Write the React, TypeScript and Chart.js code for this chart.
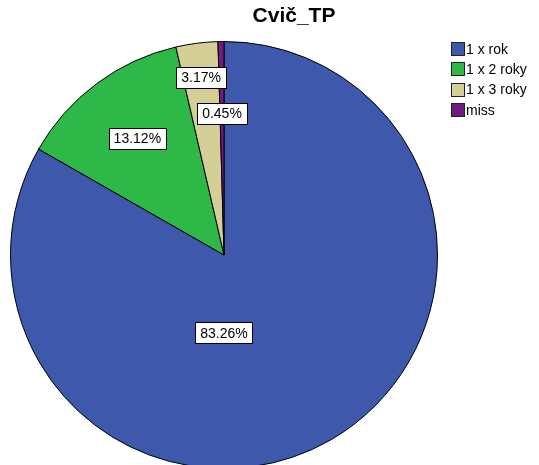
import React, { useEffect, useRef } from "react";
import { Chart, registerables } from "chart.js";

Chart.register(...registerables);

const chartTitle = "Cvič_TP";
const categories = ["1 x rok", "1 x 2 roky", "1 x 3 roky", "miss"];
const percentages = [83.26, 13.12, 3.17, 0.45];
const sliceColors = ["#3E58AC", "#2EB848", "#D4CE97", "#701C7E"];
// label placement: fraction of radius, and optional angle (deg from top, clockwise)
const labelRadius = [0.365, 0.68, 0.84, 0.665];
const labelAngle: (number | null)[] = [180, null, null, null];

const FONT = '"Liberation Sans", Arial, sans-serif';

const overlayPlugin = {
  id: "overlay",
  afterDraw(chart: any) {
    const ctx = chart.ctx;
    const meta = chart.getDatasetMeta(0);
    ctx.save();
    // slice labels
    ctx.font = `14px ${FONT}`;
    ctx.textBaseline = "middle";
    ctx.textAlign = "center";
    meta.data.forEach((arc: any, i: number) => {
      const p = arc.getProps(["x", "y", "startAngle", "endAngle", "outerRadius"], true);
      const ang =
        labelAngle[i] !== null
          ? ((labelAngle[i] as number) * Math.PI) / 180 - Math.PI / 2
          : (p.startAngle + p.endAngle) / 2;
      const r = p.outerRadius * labelRadius[i];
      const lx = p.x + r * Math.cos(ang);
      const ly = p.y + r * Math.sin(ang);
      const text = percentages[i].toFixed(2) + "%";
      const w = ctx.measureText(text).width + 10;
      const h = 21;
      const bx = Math.round(lx - w / 2) + 0.5;
      const by = Math.round(ly - h / 2) + 0.5;
      ctx.fillStyle = "#ffffff";
      ctx.fillRect(bx, by, Math.round(w), h);
      ctx.strokeStyle = "#000000";
      ctx.lineWidth = 1;
      ctx.strokeRect(bx, by, Math.round(w), h);
      ctx.fillStyle = "#000000";
      ctx.fillText(text, lx, ly + 1);
    });
    // title
    ctx.font = `bold 21px ${FONT}`;
    ctx.textAlign = "center";
    ctx.textBaseline = "alphabetic";
    ctx.fillStyle = "#000000";
    ctx.fillText(chartTitle, 294, 22);
    // legend
    ctx.font = `14px ${FONT}`;
    ctx.textAlign = "left";
    ctx.textBaseline = "middle";
    categories.forEach((c, i) => {
      const cy = 49 + i * 20.3;
      ctx.fillStyle = sliceColors[i];
      ctx.fillRect(451.5, Math.round(cy - 7) + 0.5, 13, 13);
      ctx.strokeStyle = "#222222";
      ctx.strokeRect(451.5, Math.round(cy - 7) + 0.5, 13, 13);
      ctx.fillStyle = "#000000";
      ctx.fillText(c, 466, cy + 1);
    });
    ctx.restore();
  },
};

export default function App() {
  const ref = useRef<HTMLCanvasElement | null>(null);
  useEffect(() => {
    if (!ref.current) return;
    const chart = new Chart(ref.current, {
      type: "pie",
      data: {
        labels: categories,
        datasets: [
          {
            data: percentages,
            backgroundColor: sliceColors,
            borderColor: "#000000",
            borderWidth: 1,
          },
        ],
      },
      options: {
        responsive: false,
        animation: false,
        layout: { padding: { left: 10, top: 41, right: 101, bottom: 11 } },
        plugins: {
          legend: { display: false },
          title: { display: false },
          tooltip: { enabled: false },
        },
      },
      plugins: [overlayPlugin],
    });
    return () => chart.destroy();
  }, []);
  return (
    <div
      style={{
        position: "fixed",
        left: 0,
        top: 0,
        width: 539,
        height: 465,
        overflow: "hidden",
        background: "#ffffff",
      }}
    >
      <canvas ref={ref} width={539} height={480} style={{ display: "block" }} />
    </div>
  );
}
